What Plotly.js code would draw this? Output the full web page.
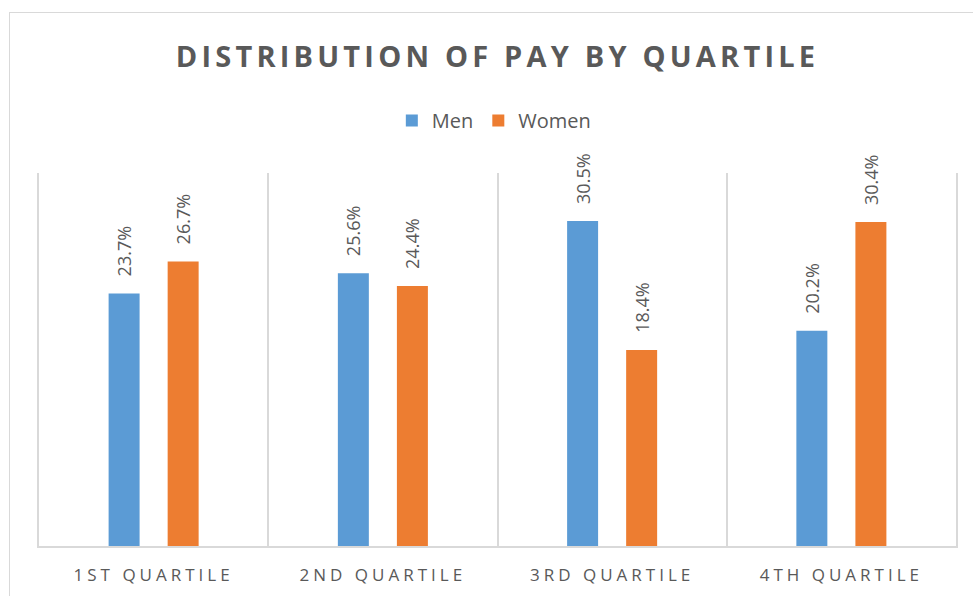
<!DOCTYPE html>
<html>
<head>
<meta charset="utf-8">
<script src="https://cdn.plot.ly/plotly-3.0.1.min.js"></script>
<style>
  html, body { margin: 0; padding: 0; background: #ffffff; overflow: hidden; width: 973px; height: 596px; }
  #frame { position: absolute; left: 9px; top: 12px; border: 1px solid #d9d9d9; width: 980px; height: 590px; background: #fff; }
  #chart { width: 980px; height: 590px; }
</style>
</head>
<body>
<div id="frame"><div id="chart"></div></div>
<script>
// ---- data ----
const categories = ["1ST QUARTILE", "2ND QUARTILE", "3RD QUARTILE", "4TH QUARTILE"];
const menValues = [23.7, 25.6, 30.5, 20.2];
const womenValues = [26.7, 24.4, 18.4, 30.4];
const seriesNames = ["Men", "Women"];
const chartTitle = "DISTRIBUTION OF PAY BY QUARTILE";

// ---- styles ----
const textColor = "#595959";
const gridColor = "#d9d9d9";
const fontFamily = "'Open Sans', 'Noto Sans', sans-serif";
const labelPad = "\u00a0\u00a0\u00a0";

function barTrace(name, values, color) {
  return {
    type: "bar",
    name: name,
    x: categories,
    y: values,
    marker: { color: color },
    text: values.map(v => labelPad + v.toFixed(1) + "%"),
    texttemplate: "%{text}",
    textposition: "outside",
    textangle: -90,
    constraintext: "none",
    cliponaxis: false,
    textfont: { family: fontFamily, size: 18, color: textColor },
    outsidetextfont: { family: fontFamily, size: 18, color: textColor },
    hoverinfo: "x+y"
  };
}

const data = [
  barTrace(seriesNames[0], menValues, "#5b9bd5"),
  barTrace(seriesNames[1], womenValues, "#ed7d31")
];

const layout = {
  width: 980,
  height: 590,
  margin: { l: 29, r: 34, t: 160, b: 57 },
  paper_bgcolor: "#ffffff",
  plot_bgcolor: "#ffffff",
  font: { family: fontFamily, color: textColor },
  title: {
    text: '<span style="letter-spacing:4.2px">' + chartTitle + '</span>',
    font: { family: fontFamily, size: 29, color: textColor, weight: "bold" },
    x: 0.5, xref: "paper", xanchor: "center",
    y: 0.925, yref: "container", yanchor: "middle"
  },
  showlegend: true,
  legend: {
    orientation: "h",
    x: 0.496, xanchor: "center",
    y: 1.141, yanchor: "middle",
    font: { family: fontFamily, size: 20, color: textColor },
    traceorder: "normal"
  },
  barmode: "group",
  bargap: 0.485,
  bargroupgap: 0.475,
  xaxis: {
    type: "category",
    range: [-0.5, 3.5],
    tickson: "boundaries",
    showgrid: true,
    gridcolor: gridColor,
    gridwidth: 1.5,
    showline: true,
    linecolor: gridColor,
    linewidth: 1.5,
    ticks: "",
    tickvals: categories,
    ticktext: categories.map(c => '<span style="letter-spacing:4px">' + c + '</span>'),
    tickfont: { family: fontFamily, size: 17, color: textColor },
    ticklabelstandoff: 13,
    fixedrange: true
  },
  yaxis: {
    range: [0, 35],
    showgrid: false,
    zeroline: false,
    showline: true,
    mirror: true,
    linecolor: gridColor,
    linewidth: 1.5,
    showticklabels: false,
    ticks: "",
    fixedrange: true
  }
};

Plotly.newPlot("chart", data, layout, { displayModeBar: false });
</script>
</body>
</html>
